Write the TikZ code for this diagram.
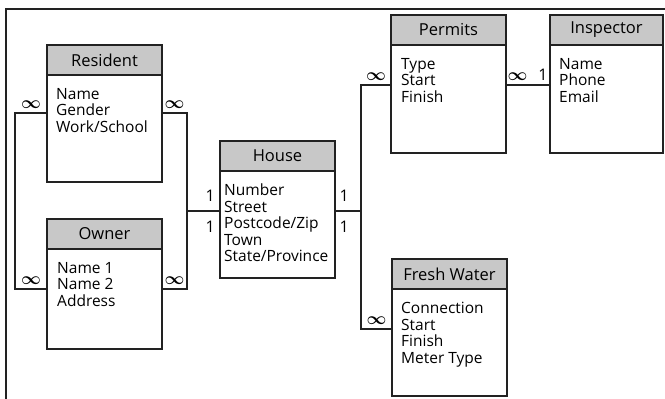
\documentclass[tikz,border=0pt]{standalone}
\usepackage{fontspec}
\setmainfont{Open Sans}
\usepackage{amsmath}
\usetikzlibrary{positioning,calc}
\definecolor{HeadGray}{HTML}{C8C8C8}
\definecolor{LineDark}{HTML}{222222}
\newcommand{\manyend}{$\boldsymbol{\infty}$}

\begin{document}
\begin{tikzpicture}[
		x=1pt,y=-1pt,
		head/.style={draw=LineDark,line width=1.7pt,fill=HeadGray,minimum width=115pt,minimum height=30pt,inner sep=0pt,outer sep=0pt,anchor=north west,font=\fontsize{16.5}{18}\selectfont},
		body/.style={draw=LineDark,line width=1.7pt,fill=white,minimum width=115pt,minimum height=107pt,inner sep=0pt,outer sep=0pt},
		fields/.style={anchor=north west,align=left,inner sep=0pt,font=\fontsize{15.5}{16.5}\selectfont},
		link/.style={draw=LineDark,line width=1.7pt},
		card/.style={inner sep=1pt,font=\fontsize{16}{17}\selectfont}
	]
	\useasboundingbox (0,0) rectangle (665,399);
	\draw[link] (6,399) |- (665,9);

	% entities
	\node[head] (resH) at (47,45) {Resident};
	\node[body,below=0pt of resH] (res) {};
	\node[fields] (resF) at ([xshift=9pt,yshift=-13pt]res.north west) {Name\\Gender\\Work/School};

	\node[head] (ownH) at (47,219) {Owner};
	\node[body,below=0pt of ownH,minimum height=100pt] (own) {};
	\node[fields] (ownF) at ([xshift=10pt,yshift=-13pt]own.north west) {Name 1\\Name 2\\Address};

	\node[head] (hsH) at (220,141) {House};
	\node[body,below=0pt of hsH] (hs) {};
	\node[fields] (hsF) at ([xshift=4pt,yshift=-13pt]hs.north west) {Number\\Street\\Postcode/Zip\\Town\\State/Province};

	\node[head] (perH) at (391,15) {Permits};
	\node[body,below=0pt of perH,minimum height=108pt] (per) {};
	\node[fields] (perF) at ([xshift=10pt,yshift=-13pt]per.north west) {Type\\Start\\Finish};

	\node[head,minimum width=113pt] (inspH) at (550,15) {Inspector};
	\node[body,below=0pt of inspH,minimum width=113pt,minimum height=108pt] (insp) {};
	\node[fields] (inspF) at ([xshift=9pt,yshift=-13pt]insp.north west) {Name\\Phone\\Email};

	\node[head] (fwH) at (392,259) {Fresh Water};
	\node[body,below=0pt of fwH] (fw) {};
	\node[fields] (fwF) at ([xshift=9pt,yshift=-13pt]fw.north west) {Connection\\Start\\Finish\\Meter Type};

	% relations
	\draw[link] ([yshift=-38pt]res.north west) -- ++(-32,0) node[card,midway,above=3pt] (c1) {\manyend}
		|- ([yshift=-40pt]own.north west) node[card,pos=0.75,above=3pt] (c2) {\manyend};
	\draw[link] ([yshift=-38pt]res.north east) -- ++(25,0) node[card,midway,above=3pt] (c3) {\manyend}
		|- ([yshift=-40pt]own.north east) node[card,pos=0.75,above=3pt] (c4) {\manyend};
	\draw[link] ([yshift=-40pt]hs.north west) -- ++(-33,0) node[card,pos=0.3,above=8pt] (c5) {1} node[card,pos=0.3,below=8pt] (c6) {1};
	\draw[link] ([yshift=-40pt]hs.north east) -- ++(26,0) node[card,pos=0.35,above=8pt] (c7) {1} node[card,pos=0.35,below=8pt] (c8) {1};
	\draw[link] ([yshift=-40pt]per.north west) -- ++(-30,0) node[card,midway,above=3pt] (c9) {\manyend}
		|- ([yshift=-40pt]fw.north west) node[card,pos=0.75,above=3pt] (c10) {\manyend};
	\draw[link] ([yshift=-40pt]per.north east) -- ([yshift=-40pt]insp.north west)
		node[card,pos=0.26,above=3pt] (c11) {\manyend} node[card,pos=0.84,above=3pt] (c12) {1};
\end{tikzpicture}
\end{document}
